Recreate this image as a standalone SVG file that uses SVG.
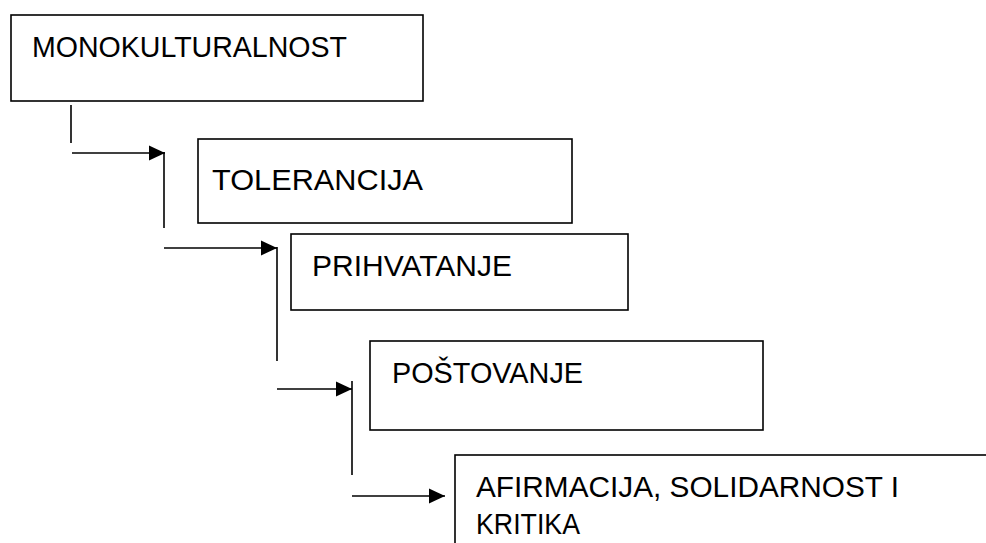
<svg xmlns="http://www.w3.org/2000/svg" width="986" height="543" viewBox="0 0 986 543">
  <style>
    .box { fill: #ffffff; stroke: #000000; stroke-width: 1.6; }
    .lbl { font-family: "Liberation Sans", Arial, sans-serif; font-size: 29px; fill: #000000; }
    .con { fill: none; stroke: #000000; stroke-width: 1.6; }
  </style>
  <defs>
    <marker id="arr" markerUnits="userSpaceOnUse" markerWidth="16" markerHeight="16" viewBox="0 0 16 16" refX="16" refY="8" orient="auto">
      <path d="M0,0.5 L16,8 L0,15.5 Z" fill="#000000"/>
    </marker>
  </defs>
  <rect width="986" height="543" fill="#ffffff"/>

  <g id="node-monokulturalnost">
    <rect class="box" x="11" y="15" width="412" height="86"/>
    <text class="lbl" x="32" y="57" textLength="315" lengthAdjust="spacingAndGlyphs">MONOKULTURALNOST</text>
  </g>
  <g id="node-tolerancija">
    <rect class="box" x="198" y="139" width="374" height="84"/>
    <text class="lbl" x="212" y="190" textLength="211" lengthAdjust="spacingAndGlyphs">TOLERANCIJA</text>
  </g>
  <g id="node-prihvatanje">
    <rect class="box" x="291" y="234" width="337" height="76"/>
    <text class="lbl" x="312" y="276" textLength="200" lengthAdjust="spacingAndGlyphs">PRIHVATANJE</text>
  </g>
  <g id="node-postovanje">
    <rect class="box" x="370" y="341" width="393" height="89"/>
    <text class="lbl" x="392" y="383" textLength="191" lengthAdjust="spacingAndGlyphs">POŠTOVANJE</text>
  </g>
  <g id="node-afirmacija">
    <rect class="box" x="455" y="455" width="600" height="200"/>
    <text class="lbl" x="476" y="497" textLength="423" lengthAdjust="spacingAndGlyphs">AFIRMACIJA, SOLIDARNOST I</text>
    <text class="lbl" x="476" y="534" textLength="104" lengthAdjust="spacingAndGlyphs">KRITIKA</text>
  </g>

  <g id="connectors">
    <line class="con" x1="71" y1="105" x2="71" y2="143"/>
    <line class="con" x1="72" y1="153" x2="165" y2="153" marker-end="url(#arr)"/>
    <line class="con" x1="164" y1="152" x2="164" y2="228"/>
    <line class="con" x1="164" y1="248" x2="277" y2="248" marker-end="url(#arr)"/>
    <line class="con" x1="277" y1="247" x2="277" y2="361"/>
    <line class="con" x1="277" y1="389" x2="352" y2="389" marker-end="url(#arr)"/>
    <line class="con" x1="352" y1="381" x2="352" y2="475"/>
    <line class="con" x1="352" y1="496" x2="445" y2="496" marker-end="url(#arr)"/>
  </g>
</svg>
